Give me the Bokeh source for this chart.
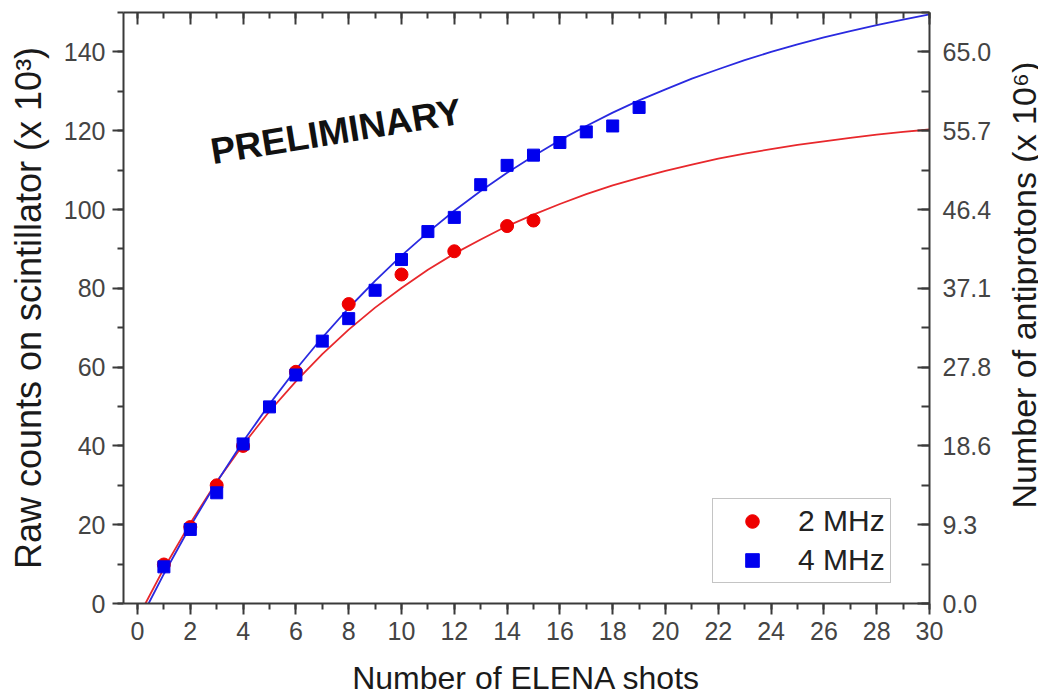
import math
from bokeh.plotting import figure
from bokeh.layouts import row
from bokeh.models import Range1d, LinearAxis, SingleIntervalTicker, Legend, LegendItem
from bokeh.core.properties import value
from bokeh.embed import file_html
from bokeh.resources import INLINE

# ---- data ----
series_names = ["2 MHz", "4 MHz"]

shots_2mhz = [1, 2, 3, 4, 6, 8, 10, 12, 14, 15]
counts_2mhz = [9.9, 19.4, 30.0, 40.0, 58.8, 76.0, 83.5, 89.4, 95.8, 97.2]

shots_4mhz = [1, 2, 3, 4, 5, 6, 7, 8, 9, 10, 11, 12, 13, 14, 15, 16, 17, 18, 19]
counts_4mhz = [9.3, 18.8, 28.1, 40.5, 49.9, 58.0, 66.6, 72.3, 79.5, 87.3,
               94.4, 98.0, 106.3, 111.2, 113.8, 117.0, 119.7, 121.2, 125.9]

# fitted curves
fit_x_2mhz = [0.3, 1, 2, 3, 4, 5, 6, 7, 8, 9, 10, 11, 12, 13, 14, 15, 16, 17, 18, 19,
              20, 21, 22, 23, 24, 25, 26, 27, 28, 29, 30]
fit_y_2mhz = [0.0, 8.9, 20.4, 30.9, 40.3, 48.8, 56.4, 63.3, 69.5, 75.1, 80.1, 84.7,
              88.8, 92.4, 95.8, 98.7, 101.4, 103.9, 106.1, 108.0, 109.8, 111.4,
              112.9, 114.2, 115.3, 116.4, 117.3, 118.2, 119.0, 119.7, 120.3]

fit_x_4mhz = [0.42, 1, 2, 3, 4, 5, 6, 7, 8, 9, 10, 11, 12, 13, 14, 15, 16, 17, 18, 19,
              20, 21, 22, 23, 24, 25, 26, 27, 28, 29, 30]
fit_y_4mhz = [0.0, 7.5, 19.6, 30.8, 41.1, 50.6, 59.4, 67.5, 75.0, 81.9, 88.3, 94.2,
              99.7, 104.7, 109.3, 113.6, 117.6, 121.2, 124.6, 127.7, 130.5, 133.2,
              135.6, 137.9, 140.0, 141.9, 143.7, 145.3, 146.8, 148.2, 149.5]

right_tick_values = [0, 20, 40, 60, 80, 100, 120, 140]
right_tick_labels = ["0.0", "9.3", "18.6", "27.8", "37.1", "46.4", "55.7", "65.0"]
top_tick_values = list(range(0, 31, 2))

x_label = "Number of ELENA shots"
y_label = "Raw counts on scintillator (x 10³)"
y2_label = ["Number of antiprotons (x 10⁶)"]
watermark = ["PRELIMINARY"]
watermark_x = [2.78]
watermark_y = [114.6]

FONT = "Liberation Sans"
AX = "#3a3a3a"

p = figure(width=1000, height=698,
           x_range=Range1d(-0.53, 30), y_range=Range1d(0, 150),
           output_backend="svg", toolbar_location=None,
           min_border_left=123, min_border_right=71,
           min_border_top=12, min_border_bottom=94)
p.outline_line_color = None
p.xgrid.visible = False
p.ygrid.visible = False
p.background_fill_color = "white"
p.border_fill_color = "white"


def style_axis(ax):
    ax.axis_line_color = AX
    ax.axis_line_width = 2
    ax.major_tick_line_color = AX
    ax.major_tick_line_width = 2
    ax.minor_tick_line_color = AX
    ax.minor_tick_line_width = 2
    ax.major_label_text_font = FONT
    ax.major_label_text_color = "#444444"
    ax.axis_label_text_font = FONT
    ax.axis_label_text_font_style = "normal"
    ax.axis_label_text_color = "#1a1a1a"


# bottom axis
xa = p.xaxis[0]
xa.ticker = SingleIntervalTicker(interval=2, num_minor_ticks=2)
style_axis(xa)
xa.major_tick_out = 11
xa.major_tick_in = 0
xa.minor_tick_out = 6
xa.minor_tick_in = 0
xa.major_label_text_font_size = "25px"
xa.major_label_standoff = 7
xa.axis_label = x_label
xa.axis_label_text_font_size = "32px"
xa.axis_label_standoff = 17

# left axis
ya = p.yaxis[0]
ya.ticker = SingleIntervalTicker(interval=20, num_minor_ticks=2)
style_axis(ya)
ya.major_tick_out = 11
ya.major_tick_in = 0
ya.minor_tick_out = 6
ya.minor_tick_in = 0
ya.major_label_text_font_size = "25px"
ya.major_label_standoff = 7
ya.axis_label = y_label
ya.axis_label_text_font_size = "36px"
ya.axis_label_standoff = 12

# top axis (ticks only)
top = LinearAxis(ticker=SingleIntervalTicker(interval=2, num_minor_ticks=2))
style_axis(top)
top.major_tick_in = 12
top.major_tick_out = 0
top.minor_tick_in = 6
top.minor_tick_out = 0
top.major_label_text_font_size = "1px"
top.major_label_standoff = 0
top.major_label_overrides = {v: "" for v in top_tick_values}
p.add_layout(top, "above")

# right axis
right = LinearAxis(ticker=SingleIntervalTicker(interval=20, num_minor_ticks=2))
style_axis(right)
right.major_tick_in = 12
right.major_tick_out = 0
right.minor_tick_in = 8
right.minor_tick_out = 0
right.major_label_text_font_size = "25px"
right.major_label_standoff = 13
right.major_label_overrides = {v: s for v, s in zip(right_tick_values, right_tick_labels)}
p.add_layout(right, "right")

# fit curves
p.line(fit_x_2mhz, fit_y_2mhz, line_color="#e8282c", line_width=1.8)
p.line(fit_x_4mhz, fit_y_4mhz, line_color="#2a2ae0", line_width=1.8)

# data points
r2 = p.scatter(shots_2mhz, counts_2mhz, marker="circle", size=13,
               fill_color="#ee0000", line_color="#ee0000")
r4 = p.scatter(shots_4mhz, counts_4mhz, marker="square", size=12,
               fill_color="#0000ee", line_color="#0000ee")

# watermark
p.text(x=watermark_x, y=watermark_y, text=watermark, angle=0.162,
       text_font=value(FONT), text_font_style="bold", text_font_size="37px",
       text_color="#111111", text_align="left", text_baseline="alphabetic")

legend = Legend(items=[LegendItem(label=series_names[0], renderers=[r2]),
                       LegendItem(label=series_names[1], renderers=[r4])],
                location=(589, 20))
legend.border_line_color = "#8a8a8a"
legend.border_line_width = 1.5
legend.background_fill_color = "white"
legend.background_fill_alpha = 1
legend.label_text_font = FONT
legend.label_text_font_size = "30px"
legend.label_text_color = "#222222"
legend.glyph_width = 68
legend.glyph_height = 34
legend.label_height = 34
legend.padding = 5
legend.spacing = 5
legend.label_standoff = 12
legend.margin = 0
p.add_layout(legend)

# narrow strip holding the right-hand axis title (reads bottom to top)
side = figure(width=38, height=698, x_range=Range1d(0, 1), y_range=p.y_range,
              output_backend="svg", toolbar_location=None,
              x_axis_type=None, y_axis_type=None,
              min_border_left=0, min_border_right=0,
              min_border_top=12, min_border_bottom=94)
side.outline_line_color = None
side.grid.visible = False
side.background_fill_color = "white"
side.border_fill_color = "white"
side.text(x=[0.62], y=[80.8], text=y2_label, angle=math.pi / 2,
          text_font=value(FONT), text_font_size="34px", text_color="#1a1a1a",
          text_align="center", text_baseline="alphabetic")

layout = row(p, side, spacing=0)
open("out.html", "w").write(file_html(layout, INLINE))
